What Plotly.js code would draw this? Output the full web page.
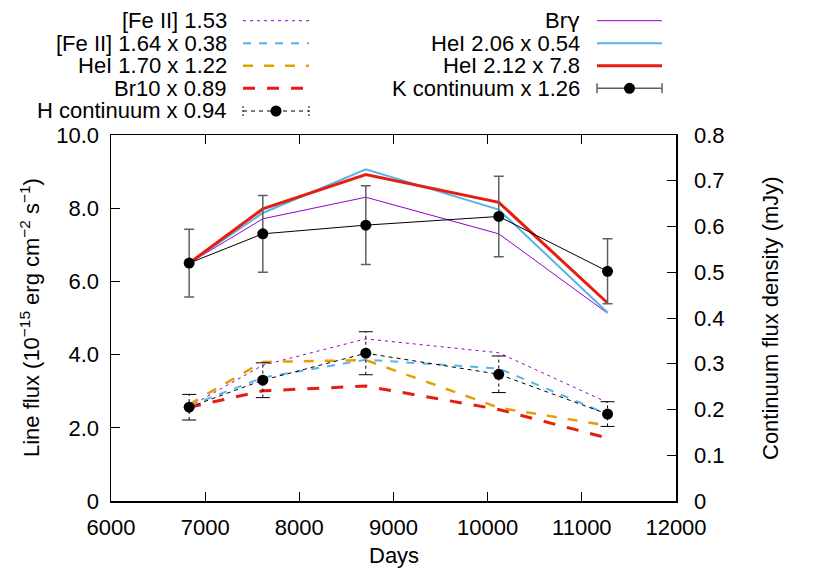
<!DOCTYPE html>
<html>
<head>
<meta charset="utf-8">
<script src="https://cdn.plot.ly/plotly-3.0.1.min.js"></script>
<style>
  html,body{margin:0;padding:0;background:#fff;}
  #chart{width:822px;height:574px;}
</style>
</head>
<body>
<div id="chart"></div>
<script>
// epochs (days) and line / continuum fluxes, as plotted (scale factors already applied)
const days    = [6830, 7612, 8706, 10118, 11273];
const feii153 = [2.58, 3.71, 4.43, 4.05, 2.69];
const feii164 = [2.60, 3.37, 3.86, 3.62, 2.37];
const hei170  = [2.64, 3.80, 3.85, 2.55, 2.06];
const br10    = [2.56, 3.01, 3.14, 2.50, 1.72];
const brg     = [6.50, 7.71, 8.30, 7.30, 5.13];
const hei206  = [6.50, 7.87, 9.06, 7.96, 5.15];
const hei212  = [6.50, 7.98, 8.92, 8.16, 5.41];
// continuum (right axis, mJy)
const hCont = [0.205, 0.264, 0.323, 0.277, 0.190];
const hErr  = [0.028, 0.038, 0.047, 0.040, 0.027];
const kCont = [0.520, 0.584, 0.603, 0.622, 0.502];
const kErr  = [0.074, 0.084, 0.086, 0.088, 0.071];

const xTicks  = [6000, 7000, 8000, 9000, 10000, 11000, 12000];
const xLabels = ["6000", "7000", "8000", "9000", "10000", "11000", "12000"];
const yTicks  = [0, 2, 4, 6, 8, 10];
const yLabels = ["0", "2.0", "4.0", "6.0", "8.0", "10.0"];
const y2Ticks  = [0, 0.1, 0.2, 0.3, 0.4, 0.5, 0.6, 0.7, 0.8];
const y2Labels = ["0", "0.1", "0.2", "0.3", "0.4", "0.5", "0.6", "0.7", "0.8"];

const names = ["[Fe II] 1.53", "[Fe II] 1.64 x 0.38", "HeI 1.70 x 1.22", "Br10 x 0.89",
               "H continuum x 0.94", "Br<span style='font-family:DejaVu Sans'>\u03b3</span>",
               "HeI 2.06 x 0.54", "HeI 2.12 x 7.8", "K continuum x 1.26"];

const C = {purple:"#9400d3", blue:"#56b4e9", orange:"#e69f00", red:"#e51e10", black:"#000", grey:"#606060"};
const FONT = "Liberation Sans, Arial, Helvetica, sans-serif";
const FS = 22;

const ln = (y, color, width, dash, name) => ({x:days, y, mode:"lines", name,
  line:{color, width, dash}, hoverinfo:"skip"});

// dashed error bars for H continuum: vertical strokes + caps
const hBarX = [], hBarY = [], capY = [], capX = [];
days.forEach((d, i) => {
  hBarX.push(d, d, null); hBarY.push(hCont[i] - hErr[i], hCont[i] + hErr[i], null);
  capX.push(d, d); capY.push(hCont[i] - hErr[i], hCont[i] + hErr[i]);
});

const traces = [
  ln(feii153, C.purple, 1, "3px,4px", names[0]),
  ln(feii164, C.blue, 2, "8px,8px", names[1]),
  ln(hei170, C.orange, 2.5, "10px,11px", names[2]),
  ln(br10, C.red, 3, "12px,12px", names[3]),
  {x:hBarX, y:hBarY, yaxis:"y2", mode:"lines", line:{color:C.black, width:1, dash:"3px,3px"}, hoverinfo:"skip"},
  {x:capX, y:capY, yaxis:"y2", mode:"markers", hoverinfo:"skip",
   marker:{symbol:"line-ew", size:10, line:{color:C.black, width:1}}},
  {x:days, y:hCont, yaxis:"y2", mode:"lines+markers", name:names[4],
   line:{color:C.black, width:1, dash:"4px,4px"}, marker:{color:C.black, size:11}},
  ln(brg, C.purple, 1, "solid", names[5]),
  ln(hei206, C.blue, 2, "solid", names[6]),
  ln(hei212, C.red, 3, "solid", names[7]),
  {x:days, y:kCont, yaxis:"y2", mode:"lines+markers", name:names[8],
   error_y:{type:"data", array:kErr, visible:true, color:C.grey, thickness:1.5, width:5},
   line:{color:C.black, width:1}, marker:{color:C.black, size:11}}
];

// hand-drawn key in gnuplot style: right-aligned text, sample to its right
const L = 111, R = 676, T = 135, B = 501;
const X = px => (px - L) / (R - L), Y = py => (B - py) / (B - T);
const rows = [20.7, 43.3, 65.7, 88.3, 111];
const key = [
  {col:0, row:0, color:C.purple, width:1, dash:"3px,4px"},
  {col:0, row:1, color:C.blue, width:2, dash:"8px,8px"},
  {col:0, row:2, color:C.orange, width:2.5, dash:"10px,11px"},
  {col:0, row:3, color:C.red, width:3, dash:"12px,12px"},
  {col:0, row:4, color:C.black, width:1, dash:"4px,4px", err:true},
  {col:1, row:0, color:C.purple, width:1, dash:"solid"},
  {col:1, row:1, color:C.blue, width:2, dash:"solid"},
  {col:1, row:2, color:C.red, width:3, dash:"solid"},
  {col:1, row:3, color:C.grey, width:1.5, dash:"solid", err:true}
];
const cols = [{text:229, s0:243, s1:309}, {text:582, s0:597, s1:662}];
const shapes = [], annotations = [];
key.forEach((k, i) => {
  const c = cols[k.col], yy = Y(rows[k.row]);
  annotations.push({xref:"paper", yref:"paper", x:X(c.text), y:yy, xanchor:"right", yanchor:"middle",
    text:names[i], showarrow:false, font:{family:FONT, size:FS, color:"#000"}});
  shapes.push({type:"line", xref:"paper", yref:"paper", x0:X(c.s0), x1:X(c.s1), y0:yy, y1:yy,
    line:{color:k.color, width:k.width, dash:k.dash}});
  if (k.err) {
    [c.s0, c.s1].forEach(px => shapes.push({type:"line", xref:"paper", yref:"paper",
      ysizemode:"pixel", yanchor:yy, x0:X(px), x1:X(px), y0:-5, y1:5,
      line:{color:k.color, width:k.width, dash:k.dash === "solid" ? "solid" : "2px,2px"}}));
    shapes.push({type:"circle", xref:"paper", yref:"paper", xsizemode:"pixel", ysizemode:"pixel",
      xanchor:X((c.s0 + c.s1) / 2), yanchor:yy, x0:-5.5, x1:5.5, y0:-5.5, y1:5.5,
      fillcolor:"#000", line:{color:"#000", width:0}});
  }
});

// axis titles
annotations.push(
  {xref:"paper", yref:"paper", x:0.5, y:Y(555), text:"Days", showarrow:false,
   font:{family:FONT, size:FS}, xanchor:"center", yanchor:"middle"},
  {xref:"paper", yref:"paper", x:X(30), y:0.5, textangle:-90, showarrow:false,
   text:"Line flux (10<sup>\u221215</sup> erg cm<sup>\u22122</sup> s<sup>\u22121</sup>)",
   font:{family:FONT, size:FS}, xanchor:"center", yanchor:"middle"},
  {xref:"paper", yref:"paper", x:X(770), y:0.5, textangle:-90, showarrow:false,
   text:"Continuum flux density (mJy)", font:{family:FONT, size:FS}, xanchor:"center", yanchor:"middle"}
);

const axisBase = {showgrid:false, zeroline:false, showline:true, linecolor:"#000", linewidth:1.5,
  ticks:"inside", ticklen:9, tickwidth:1, tickcolor:"#000",
  tickfont:{family:FONT, size:FS, color:"#000"}, fixedrange:true};

const layout = {
  width:822, height:574, showlegend:false,
  margin:{l:L, r:822 - R, t:T, b:574 - B},
  paper_bgcolor:"#fff", plot_bgcolor:"#fff",
  font:{family:FONT, size:FS, color:"#000"},
  xaxis:Object.assign({}, axisBase, {range:[6000, 12000], tickvals:xTicks, ticktext:xLabels,
    mirror:"ticks", ticklabelstandoff:6}),
  yaxis:Object.assign({}, axisBase, {range:[0, 10], tickvals:yTicks, ticktext:yLabels, ticklabelstandoff:6}),
  yaxis2:Object.assign({}, axisBase, {range:[0, 0.8], tickvals:y2Ticks, ticktext:y2Labels,
    overlaying:"y", side:"right", ticklabelstandoff:12}),
  shapes, annotations
};

Plotly.newPlot("chart", traces, layout, {displayModeBar:false, staticPlot:true});
</script>
</body>
</html>
